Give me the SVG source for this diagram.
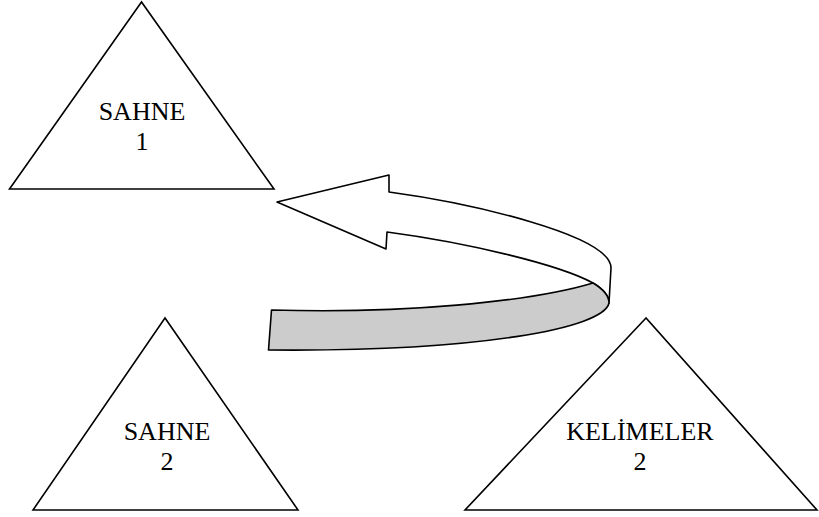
<svg xmlns="http://www.w3.org/2000/svg" width="819" height="517" viewBox="0 0 819 517">
<style>
.tri{fill:#fff;stroke:#000;stroke-width:1.6;stroke-linejoin:miter}
.lbl{font-family:"Liberation Serif","Times New Roman",serif;font-size:26px;fill:#000;text-anchor:middle}
.arr{stroke:#000;stroke-width:1.6;stroke-linejoin:round}
</style>
<rect width="819" height="517" fill="#fff"/>
<g id="sahne1">
<polygon class="tri" points="141.5,2 9.5,189 274,189"/>
<text class="lbl" x="142" y="120">SAHNE</text>
<text class="lbl" x="142" y="150">1</text>
</g>
<g id="sahne2">
<polygon class="tri" points="165,318 33,510 298,510"/>
<text class="lbl" x="167" y="440">SAHNE</text>
<text class="lbl" x="167" y="470">2</text>
</g>
<g id="kelimeler2">
<polygon class="tri" points="646,318 465,510 817,510"/>
<text class="lbl" x="640" y="440">KELİMELER</text>
<text class="lbl" x="640" y="470">2</text>
</g>
<g id="connectors">
<path class="arr" fill="#fff" d="M389,192 C470,203 611,235 611,268 L609,303 C609,296 603,289 593,283 C560,265 470,243 387,232 L386,249 L277,202 L389,175 Z"/>
<path class="arr" fill="#cccccc" d="M271.5,310 C400,314 530,302 593,283 C603,289 609,296 609,303 C604,328 480,352 268.5,350 Z"/>
</g>
</svg>
